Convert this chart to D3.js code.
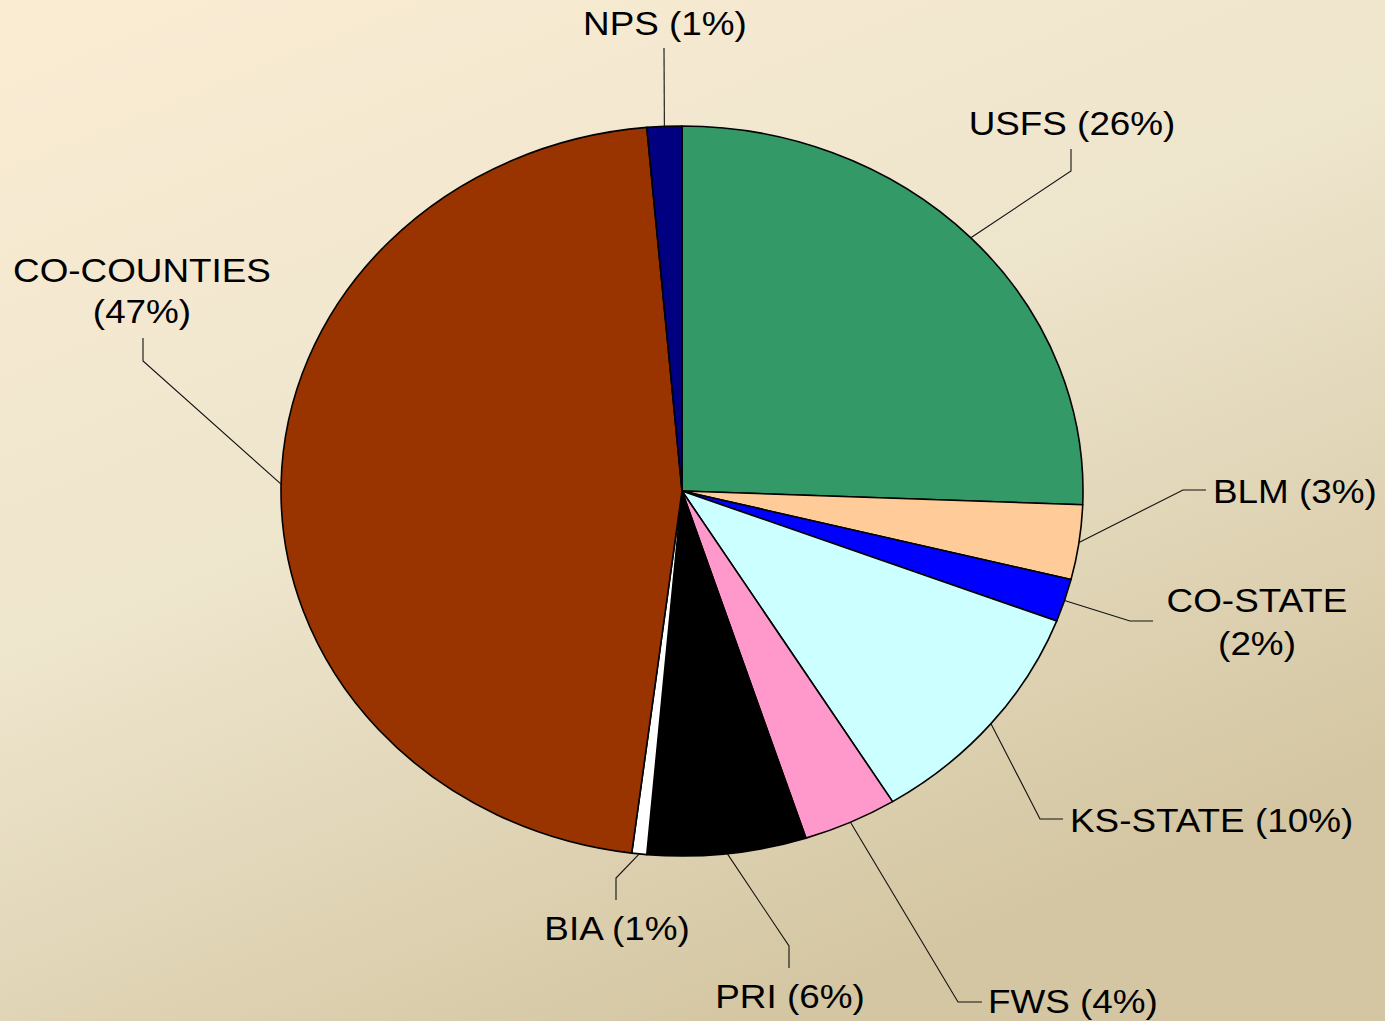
<!DOCTYPE html>
<html>
<head>
<meta charset="utf-8">
<script src="https://cdn.jsdelivr.net/npm/d3@7"></script>
<style>
  html, body { margin: 0; padding: 0; overflow: hidden; }
  svg { display: block; }
  text { font-family: "Liberation Sans", Arial, sans-serif; fill: #000; }
</style>
</head>
<body>
<svg id="chart" width="1385" height="1021"></svg>
<script>
// ---- data ----
const categories = ["USFS", "BLM", "CO-STATE", "KS-STATE", "FWS", "PRI", "BIA", "CO-COUNTIES", "NPS"];
const values     = [25.6, 3.3, 1.9, 10.4, 3.8, 6.4, 0.6, 46.6, 1.4];
const colors     = ["#339966", "#ffcc99", "#0000ff", "#ccffff", "#ff99cc", "#000000", "#ffffff", "#993300", "#000080"];

// ---- layout (label placement) ----
const W = 1385, H = 1021;
const cx = 682, cy = 491, rx = 401, ry = 365;
const fontSize = 33.5;
const textSx = 1.1;
const labelLayout = {
  "USFS":        { anchor: "middle", x: 1072, y: [135],      split: false, leader: [[1071, 171], [1071, 149]] },
  "BLM":         { anchor: "start",  x: 1213, y: [503],      split: false, leader: [[1183, 490], [1206, 490]] },
  "CO-STATE":    { anchor: "middle", x: 1257, y: [612, 655], split: true,  leader: [[1130, 621], [1153, 621]] },
  "KS-STATE":    { anchor: "start",  x: 1070, y: [832],      split: false, leader: [[1040, 819], [1063, 819]] },
  "FWS":         { anchor: "start",  x: 988,  y: [1013],     split: false, leader: [[958, 1002], [982, 1002]] },
  "PRI":         { anchor: "middle", x: 790,  y: [1008],     split: false, leader: [[789, 946], [789, 968]] },
  "BIA":         { anchor: "middle", x: 617,  y: [940],      split: false, leader: [[616, 878], [616, 900]] },
  "CO-COUNTIES": { anchor: "middle", x: 142,  y: [282, 323], split: true,  leader: [[143, 361], [143, 338]] },
  "NPS":         { anchor: "middle", x: 665,  y: [35],       split: false, leader: [[664, 48]] }
};

const svg = d3.select("#chart");

// background gradient
const defs = svg.append("defs");
const grad = defs.append("linearGradient").attr("id", "bg")
  .attr("x1", "0").attr("y1", "0").attr("x2", "0.55").attr("y2", "1");
grad.append("stop").attr("offset", "0").attr("stop-color", "#faecd3");
grad.append("stop").attr("offset", "0.5").attr("stop-color", "#eee5cd");
grad.append("stop").attr("offset", "1").attr("stop-color", "#d4c6a2");
svg.append("rect").attr("width", W).attr("height", H).attr("fill", "url(#bg)");

const data = categories.map((c, i) => ({ name: c, value: values[i], color: colors[i] }));
const total = d3.sum(values);

const pie = d3.pie().value(d => d.value).sort(null);
const arcs = pie(data);
const arc = d3.arc().innerRadius(0).outerRadius(ry);

// pie (drawn on a circle, stretched horizontally into the ellipse)
const pg = svg.append("g").attr("transform", `translate(${cx},${cy}) scale(${rx / ry},1)`);
pg.selectAll("path").data(arcs).join("path")
  .attr("d", arc)
  .attr("fill", d => d.data.color)
  .attr("stroke", "#000")
  .attr("stroke-width", 1.6)
  .attr("stroke-linejoin", "round")
  .attr("vector-effect", "non-scaling-stroke");

// leader lines
const lg = svg.append("g");
arcs.forEach(a => {
  const L = labelLayout[a.data.name];
  const mid = (a.startAngle + a.endAngle) / 2;
  const p0 = [cx + rx * Math.sin(mid), cy - ry * Math.cos(mid)];
  const pts = [p0].concat(L.leader);
  lg.append("path")
    .attr("d", d3.line()(pts))
    .attr("fill", "none")
    .attr("stroke", "#111")
    .attr("stroke-width", 1.1);
});

// labels
const tg = svg.append("g");
arcs.forEach(a => {
  const L = labelLayout[a.data.name];
  const pct = Math.round(a.data.value / total * 100);
  const lines = L.split ? [a.data.name, `(${pct}%)`] : [`${a.data.name} (${pct}%)`];
  lines.forEach((t, i) => {
    tg.append("text")
      .attr("transform", `translate(${L.x},${L.y[i]}) scale(${textSx},1)`)
      .attr("text-anchor", L.anchor)
      .style("font-size", fontSize + "px")
      .text(t);
  });
});
</script>
</body>
</html>
